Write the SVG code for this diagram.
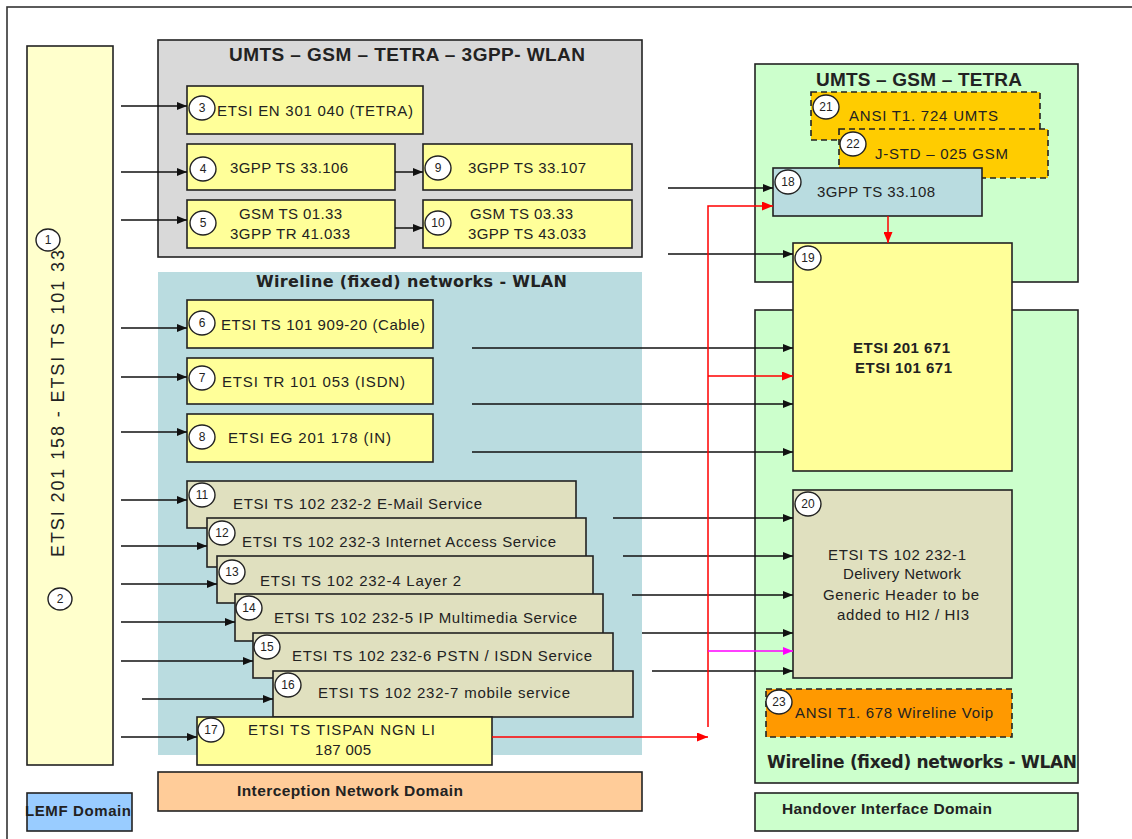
<svg xmlns="http://www.w3.org/2000/svg" width="1132" height="839" viewBox="0 0 1132 839">
<defs>
<style>
text{font-family:"Liberation Sans",Arial,sans-serif;fill:#222;}
.t{font-size:15px;}
.b{font-weight:bold;}
.w{font-family:"DejaVu Sans","Liberation Sans",sans-serif;font-weight:bold;}
.n{font-size:12px;text-anchor:middle;}
.box{stroke:#222;stroke-width:1.6;}
.y{fill:#FFFF99;}
.k{fill:#E0E0BF;}
.g{fill:#CCFFCC;}
.dash{stroke:#222;stroke-width:1.6;stroke-dasharray:6,4;}
.num{fill:#fff;stroke:#222;stroke-width:1.4;}
.c{fill:none;stroke:#111;stroke-width:1.5;}
.cr{fill:none;stroke:#FF0000;stroke-width:1.5;}
.cm{fill:none;stroke:#FF00FF;stroke-width:1.5;}
</style>
<marker id="ab" markerUnits="userSpaceOnUse" markerWidth="10" markerHeight="8" refX="10" refY="4" orient="auto"><path d="M0,0 L10,4 L0,8 z" fill="#111"/></marker>
<marker id="ar" markerUnits="userSpaceOnUse" markerWidth="11" markerHeight="9" refX="11" refY="4.5" orient="auto"><path d="M0,0 L11,4.5 L0,9 z" fill="#FF0000"/></marker>
<marker id="am" markerUnits="userSpaceOnUse" markerWidth="10" markerHeight="8" refX="10" refY="4" orient="auto"><path d="M0,0 L10,4 L0,8 z" fill="#FF00FF"/></marker>
</defs>
<rect width="1132" height="839" fill="#fff"/>
<rect x="7" y="7" width="1140" height="850" fill="none" stroke="#333" stroke-width="1.6"/>

<!-- regions -->
<g id="lemf-column">
<rect class="box" x="27" y="46" width="86" height="719" fill="#FFFFCC"/>
<text transform="translate(64,557) rotate(-90)" font-size="18" textLength="307" lengthAdjust="spacing">ETSI 201 158 - ETSI TS 101 33</text>
<ellipse class="num" cx="48" cy="240" rx="12" ry="11"/><text class="n" x="48" y="244">1</text>
<ellipse class="num" cx="60" cy="599" rx="12" ry="11"/><text class="n" x="60" y="603">2</text>
</g>
<g id="region-mobile">
<rect class="box" x="158" y="40" width="484" height="217" fill="#D9D9D9"/>
<text class="b" x="229" y="61" font-size="19" textLength="356" lengthAdjust="spacing">UMTS – GSM – TETRA  – 3GPP- WLAN</text>
</g>
<g id="region-wireline">
<rect x="158" y="272" width="484" height="483" fill="#BADCE0"/>
<text class="w" x="256" y="287" font-size="16" textLength="311" lengthAdjust="spacing">Wireline (fixed) networks - WLAN</text>
</g>
<g id="region-ho-mobile">
<rect class="box g" x="755" y="64" width="323" height="218"/>
<text class="b" x="816" y="86" font-size="19" textLength="206" lengthAdjust="spacing">UMTS – GSM – TETRA</text>
</g>
<g id="region-ho-wireline">
<rect class="box g" x="755" y="310" width="323" height="473"/>
<text class="w" x="767" y="768" font-size="17" textLength="310" lengthAdjust="spacing">Wireline (fixed) networks - WLAN</text>
</g>

<!-- nodes -->
<g id="n3"><rect class="box y" x="187" y="86" width="236" height="48"/>
<text class="t" x="217" y="116" textLength="196" lengthAdjust="spacing">ETSI EN 301 040 (TETRA)</text>
<ellipse class="num" cx="202" cy="108" rx="13" ry="12"/><text class="n" x="202" y="112">3</text></g>
<g id="n4"><rect class="box y" x="187" y="144" width="208" height="46"/>
<text class="t" x="230" y="173" textLength="118" lengthAdjust="spacing">3GPP TS 33.106</text>
<ellipse class="num" cx="203" cy="169" rx="13" ry="12"/><text class="n" x="203" y="173">4</text></g>
<g id="n5"><rect class="box y" x="187" y="200" width="208" height="48"/>
<text class="t" x="239" y="219" textLength="103" lengthAdjust="spacing">GSM TS 01.33</text>
<text class="t" x="230" y="239" textLength="120" lengthAdjust="spacing">3GPP TR 41.033</text>
<ellipse class="num" cx="203" cy="223" rx="13" ry="12"/><text class="n" x="203" y="227">5</text></g>
<g id="n9"><rect class="box y" x="423" y="144" width="209" height="46"/>
<text class="t" x="468" y="173" textLength="118" lengthAdjust="spacing">3GPP TS 33.107</text>
<ellipse class="num" cx="438" cy="168" rx="13" ry="12"/><text class="n" x="438" y="172">9</text></g>
<g id="n10"><rect class="box y" x="423" y="200" width="209" height="48"/>
<text class="t" x="470" y="219" textLength="103" lengthAdjust="spacing">GSM TS 03.33</text>
<text class="t" x="468" y="239" textLength="118" lengthAdjust="spacing">3GPP TS 43.033</text>
<ellipse class="num" cx="438" cy="223" rx="13" ry="12"/><text class="n" x="438" y="227">10</text></g>

<g id="n6"><rect class="box y" x="187" y="300" width="246" height="48"/>
<text class="t" x="221" y="330" textLength="204" lengthAdjust="spacing">ETSI TS 101 909-20 (Cable)</text>
<ellipse class="num" cx="202" cy="323" rx="13" ry="12"/><text class="n" x="202" y="327">6</text></g>
<g id="n7"><rect class="box y" x="187" y="358" width="246" height="46"/>
<text class="t" x="222" y="387" textLength="183" lengthAdjust="spacing">ETSI TR 101 053 (ISDN)</text>
<ellipse class="num" cx="202" cy="378" rx="13" ry="12"/><text class="n" x="202" y="382">7</text></g>
<g id="n8"><rect class="box y" x="187" y="414" width="246" height="48"/>
<text class="t" x="228" y="443" textLength="163" lengthAdjust="spacing">ETSI EG 201 178 (IN)</text>
<ellipse class="num" cx="202" cy="437" rx="13" ry="12"/><text class="n" x="202" y="441">8</text></g>

<g id="n11"><rect class="box k" x="187" y="481" width="389" height="47"/>
<text class="t" x="233" y="509" textLength="249" lengthAdjust="spacing">ETSI TS 102 232-2 E-Mail Service</text>
<ellipse class="num" cx="202" cy="495" rx="13" ry="12"/><text class="n" x="202" y="499">11</text></g>
<g id="n12"><rect class="box k" x="207" y="518" width="379" height="49"/>
<text class="t" x="242" y="547" textLength="314" lengthAdjust="spacing">ETSI TS 102 232-3 Internet Access Service</text>
<ellipse class="num" cx="222" cy="533" rx="13" ry="12"/><text class="n" x="222" y="537">12</text></g>
<g id="n13"><rect class="box k" x="217" y="556" width="376" height="47"/>
<text class="t" x="260" y="586" textLength="201" lengthAdjust="spacing">ETSI TS 102 232-4 Layer 2</text>
<ellipse class="num" cx="232" cy="572" rx="13" ry="12"/><text class="n" x="232" y="576">13</text></g>
<g id="n14"><rect class="box k" x="235" y="594" width="368" height="47"/>
<text class="t" x="274" y="623" textLength="303" lengthAdjust="spacing">ETSI TS 102 232-5 IP Multimedia  Service</text>
<ellipse class="num" cx="249" cy="608" rx="13" ry="12"/><text class="n" x="249" y="612">14</text></g>
<g id="n15"><rect class="box k" x="253" y="633" width="360" height="45"/>
<text class="t" x="292" y="661" textLength="300" lengthAdjust="spacing">ETSI TS 102 232-6 PSTN / ISDN Service</text>
<ellipse class="num" cx="267" cy="647" rx="13" ry="12"/><text class="n" x="267" y="651">15</text></g>
<g id="n16"><rect class="box k" x="273" y="671" width="360" height="46"/>
<text class="t" x="318" y="698" textLength="252" lengthAdjust="spacing">ETSI TS 102 232-7  mobile service</text>
<ellipse class="num" cx="288" cy="685" rx="13" ry="12"/><text class="n" x="288" y="689">16</text></g>
<g id="n17"><rect class="box y" x="197" y="717" width="295" height="48"/>
<text class="t" x="248" y="735" textLength="187" lengthAdjust="spacing">ETSI TS TISPAN NGN LI</text>
<text class="t" x="315" y="755" textLength="56" lengthAdjust="spacing">187 005</text>
<ellipse class="num" cx="211" cy="730" rx="13" ry="12"/><text class="n" x="211" y="734">17</text></g>

<g id="n21"><rect class="dash" x="811" y="92" width="229" height="48" fill="#FFCC00"/>
<text class="t" x="849" y="121" textLength="149" lengthAdjust="spacing">ANSI T1. 724 UMTS</text>
<ellipse class="num" cx="826" cy="107" rx="13" ry="12"/><text class="n" x="826" y="111">21</text></g>
<g id="n22"><rect class="dash" x="839" y="129" width="209" height="49" fill="#FFCC00"/>
<text class="t" x="875" y="159" textLength="133" lengthAdjust="spacing">J-STD – 025 GSM</text>
<ellipse class="num" cx="853" cy="144" rx="13" ry="12"/><text class="n" x="853" y="148">22</text></g>
<g id="n18"><rect class="box" x="773" y="168" width="209" height="48" fill="#B9DCE0"/>
<text class="t" x="817" y="197" textLength="118" lengthAdjust="spacing">3GPP TS 33.108</text>
<ellipse class="num" cx="788" cy="182" rx="13" ry="12"/><text class="n" x="788" y="186">18</text></g>
<g id="n19"><rect class="box y" x="793" y="243" width="219" height="228"/>
<text class="b" x="853" y="353" font-size="15" textLength="97" lengthAdjust="spacing">ETSI 201 671</text>
<text class="b" x="855" y="373" font-size="15" textLength="97" lengthAdjust="spacing">ETSI 101 671</text>
<ellipse class="num" cx="808" cy="258" rx="13" ry="12"/><text class="n" x="808" y="262">19</text></g>
<g id="n20"><rect class="box k" x="793" y="490" width="219" height="188"/>
<text class="t" x="828" y="560" textLength="138" lengthAdjust="spacing">ETSI TS 102 232-1</text>
<text class="t" x="843" y="579" textLength="118" lengthAdjust="spacing">Delivery Network</text>
<text class="t" x="823" y="600" textLength="156" lengthAdjust="spacing">Generic Header to be</text>
<text class="t" x="837" y="620" textLength="132" lengthAdjust="spacing">added to HI2 / HI3</text>
<ellipse class="num" cx="808" cy="504" rx="13" ry="12"/><text class="n" x="808" y="508">20</text></g>
<g id="n23"><rect class="dash" x="766" y="689" width="246" height="48" fill="#FF9900"/>
<text class="t" x="795" y="718" textLength="198" lengthAdjust="spacing">ANSI T1. 678 Wireline Voip</text>
<ellipse class="num" cx="779" cy="702" rx="13" ry="12"/><text class="n" x="779" y="706">23</text></g>

<g id="legend-interception"><rect class="box" x="158" y="772" width="484" height="39" fill="#FFCC99"/>
<text class="b" x="237" y="796" font-size="15.5" textLength="226" lengthAdjust="spacing">Interception Network Domain</text></g>
<g id="legend-lemf"><rect class="box" x="27" y="793" width="105" height="38" fill="#99CCFF"/>
<text class="b" x="25" y="816" font-size="15" textLength="106" lengthAdjust="spacing">LEMF Domain</text></g>
<g id="legend-handover"><rect class="box g" x="755" y="793" width="323" height="38"/>
<text class="b" x="782" y="814" font-size="15.5" textLength="210" lengthAdjust="spacing">Handover Interface Domain</text></g>

<!-- connectors -->
<g id="connectors">
<line class="c" x1="121" y1="106" x2="187" y2="106" marker-end="url(#ab)"/>
<line class="c" x1="121" y1="172" x2="187" y2="172" marker-end="url(#ab)"/>
<line class="c" x1="121" y1="220" x2="187" y2="220" marker-end="url(#ab)"/>
<line class="c" x1="395" y1="172" x2="423" y2="172" marker-end="url(#ab)"/>
<line class="c" x1="395" y1="228" x2="423" y2="228" marker-end="url(#ab)"/>
<line class="c" x1="121" y1="328" x2="187" y2="328" marker-end="url(#ab)"/>
<line class="c" x1="121" y1="377" x2="187" y2="377" marker-end="url(#ab)"/>
<line class="c" x1="121" y1="432" x2="187" y2="432" marker-end="url(#ab)"/>
<line class="c" x1="121" y1="500" x2="187" y2="500" marker-end="url(#ab)"/>
<line class="c" x1="121" y1="546" x2="207" y2="546" marker-end="url(#ab)"/>
<line class="c" x1="121" y1="584" x2="217" y2="584" marker-end="url(#ab)"/>
<line class="c" x1="121" y1="622" x2="235" y2="622" marker-end="url(#ab)"/>
<line class="c" x1="121" y1="661" x2="253" y2="661" marker-end="url(#ab)"/>
<line class="c" x1="142" y1="699" x2="273" y2="699" marker-end="url(#ab)"/>
<line class="c" x1="121" y1="737" x2="197" y2="737" marker-end="url(#ab)"/>

<line class="c" x1="668" y1="188" x2="773" y2="188" marker-end="url(#ab)"/>
<line class="c" x1="668" y1="254" x2="793" y2="254" marker-end="url(#ab)"/>
<line class="c" x1="472" y1="348" x2="793" y2="348" marker-end="url(#ab)"/>
<line class="c" x1="472" y1="404" x2="793" y2="404" marker-end="url(#ab)"/>
<line class="c" x1="472" y1="452" x2="793" y2="452" marker-end="url(#ab)"/>
<line class="c" x1="613" y1="518" x2="793" y2="518" marker-end="url(#ab)"/>
<line class="c" x1="623" y1="556" x2="793" y2="556" marker-end="url(#ab)"/>
<line class="c" x1="632" y1="595" x2="793" y2="595" marker-end="url(#ab)"/>
<line class="c" x1="642" y1="633" x2="793" y2="633" marker-end="url(#ab)"/>
<line class="c" x1="652" y1="671" x2="793" y2="671" marker-end="url(#ab)"/>

<polyline class="cr" points="708,727 708,206 773,206" marker-end="url(#ar)"/>
<line class="cr" x1="708" y1="376" x2="793" y2="376" marker-end="url(#ar)"/>
<line class="cr" x1="492" y1="737" x2="708" y2="737" marker-end="url(#ar)"/>
<line class="cr" x1="888" y1="216" x2="888" y2="243" marker-end="url(#ar)"/>
<line class="cm" x1="708" y1="651" x2="793" y2="651" marker-end="url(#am)"/>
</g>
</svg>
